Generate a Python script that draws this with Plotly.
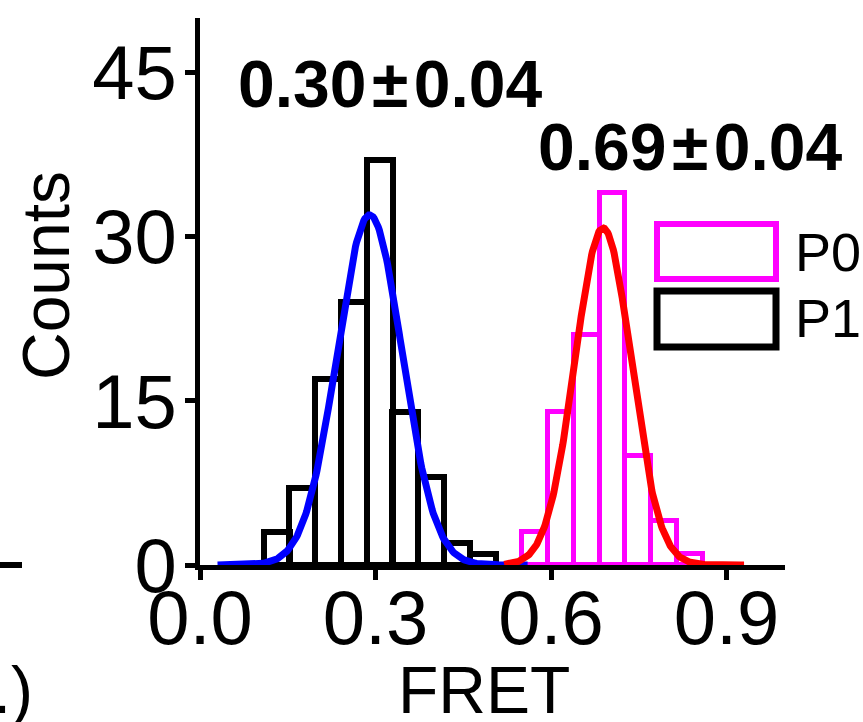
import numpy as np
import plotly.graph_objects as go

# ---- data ----
bin_width = 0.0442
p1_fret = [0.131, 0.175, 0.219, 0.263, 0.307, 0.351, 0.395, 0.440, 0.484]
p1_counts = [3, 7, 17, 24, 37, 14, 8, 2, 1]
p0_fret = [0.573, 0.617, 0.661, 0.705, 0.749, 0.793, 0.837]
p0_counts = [3, 14, 21, 34, 10, 4, 1]

# Gaussian fit parameters (centre, sigma, amplitude)
p1_fit = (0.290, 0.0556, 32.0)
p0_fit = (0.689, 0.0480, 30.8)
p1_fit_range = (0.03, 0.56)
p0_fit_range = (0.52, 0.93)

x_ticks = [0.0, 0.3, 0.6, 0.9]
x_ticktext = ["0.0", "0.3", "0.6", "0.9"]
y_ticks = [0, 15, 30, 45]
y_ticktext = ["0", "15", "30", "45"]

labels = ["0.30\u200a\u00b1\u200a0.04", "0.69\u200a\u00b1\u200a0.04"]
legend_names = ["P0", "P1"]

FONT = "Liberation Sans, Arial, sans-serif"
MAGENTA = "#FF00FF"

W, H = 863, 722
ML, MR, MT, MB = 200, 78, 18, 157
PW, PH = W - ML - MR, H - MT - MB


def px(x):
    return (x - ML) / PW


def py(y):
    return (H - MB - y) / PH


def gauss_curve(params, rng):
    mu, sig, amp = params
    xs = np.linspace(rng[0], rng[1], 300)
    return xs, amp * np.exp(-0.5 * ((xs - mu) / sig) ** 2)


fig = go.Figure()
fig.add_trace(go.Bar(x=p1_fret, y=p1_counts, width=bin_width, name="P1",
                     marker=dict(color="rgba(0,0,0,0)", line=dict(color="black", width=6)),
                     showlegend=False))
fig.add_trace(go.Bar(x=p0_fret, y=p0_counts, width=bin_width, name="P0",
                     marker=dict(color="rgba(0,0,0,0)", line=dict(color=MAGENTA, width=5)),
                     showlegend=False))
bx, by = gauss_curve(p1_fit, p1_fit_range)
fig.add_trace(go.Scatter(x=bx, y=by, mode="lines", line=dict(color="#0000FF", width=7),
                         showlegend=False))
rx, ry = gauss_curve(p0_fit, p0_fit_range)
fig.add_trace(go.Scatter(x=rx, y=ry, mode="lines", line=dict(color="#FF0000", width=7),
                         showlegend=False))

axis_common = dict(showline=True, linecolor="black", linewidth=5, ticks="outside",
                   ticklen=10, tickwidth=5, tickcolor="black", showgrid=False,
                   zeroline=False, tickfont=dict(family=FONT, size=76, color="black"))

fig.update_layout(
    width=W, height=H,
    margin=dict(l=ML, r=MR, t=MT, b=MB, pad=0),
    plot_bgcolor="white", paper_bgcolor="white",
    barmode="overlay", bargap=0,
    xaxis=dict(range=[0, 1.0], tickvals=x_ticks, ticktext=x_ticktext,
               ticklabelstandoff=-27, **axis_common),
    yaxis=dict(range=[0, 50], tickvals=y_ticks, ticktext=y_ticktext,
               ticklabelstandoff=-7, **axis_common),
    showlegend=False,
)

ann = []
# peak labels
ann.append(dict(x=px(390), y=py(84), xref="paper", yref="paper", text="<b>%s</b>" % labels[0],
                showarrow=False, xanchor="center", yanchor="middle",
                font=dict(family=FONT, size=66, color="black")))
ann.append(dict(x=px(690), y=py(147), xref="paper", yref="paper", text="<b>%s</b>" % labels[1],
                showarrow=False, xanchor="center", yanchor="middle",
                font=dict(family=FONT, size=66, color="black")))
# axis titles
ann.append(dict(x=px(484), y=py(690), xref="paper", yref="paper", text="FRET",
                showarrow=False, xanchor="center", yanchor="middle",
                font=dict(family=FONT, size=66, color="black")))
ann.append(dict(x=px(46), y=py(276), xref="paper", yref="paper", text="Counts",
                showarrow=False, xanchor="center", yanchor="middle", textangle=-90,
                font=dict(family=FONT, size=66, color="black")))
# cropped neighbouring panel title
ann.append(dict(x=px(35), y=py(690), xref="paper", yref="paper", text="(a.u.)",
                showarrow=False, xanchor="right", yanchor="middle",
                font=dict(family=FONT, size=66, color="black")))
# legend text
ann.append(dict(x=px(793), y=py(252), xref="paper", yref="paper", text=legend_names[0],
                showarrow=False, xanchor="left", yanchor="middle",
                font=dict(family=FONT, size=54, color="black")))
ann.append(dict(x=px(793), y=py(318), xref="paper", yref="paper", text=legend_names[1],
                showarrow=False, xanchor="left", yanchor="middle",
                font=dict(family=FONT, size=54, color="black")))
fig.update_layout(annotations=ann)

shapes = [
    dict(type="rect", xref="paper", yref="paper", x0=px(657), x1=px(776), y0=py(279), y1=py(224),
         line=dict(color=MAGENTA, width=6), fillcolor="rgba(0,0,0,0)"),
    dict(type="rect", xref="paper", yref="paper", x0=px(657), x1=px(776), y0=py(347), y1=py(291),
         line=dict(color="black", width=7), fillcolor="rgba(0,0,0,0)"),
    # cropped fragment of neighbouring panel axis
    dict(type="line", xref="paper", yref="paper", x0=px(0), x1=px(22), y0=py(565), y1=py(565),
         line=dict(color="black", width=6)),
]
fig.update_layout(shapes=shapes)

fig.write_html("out.html")
